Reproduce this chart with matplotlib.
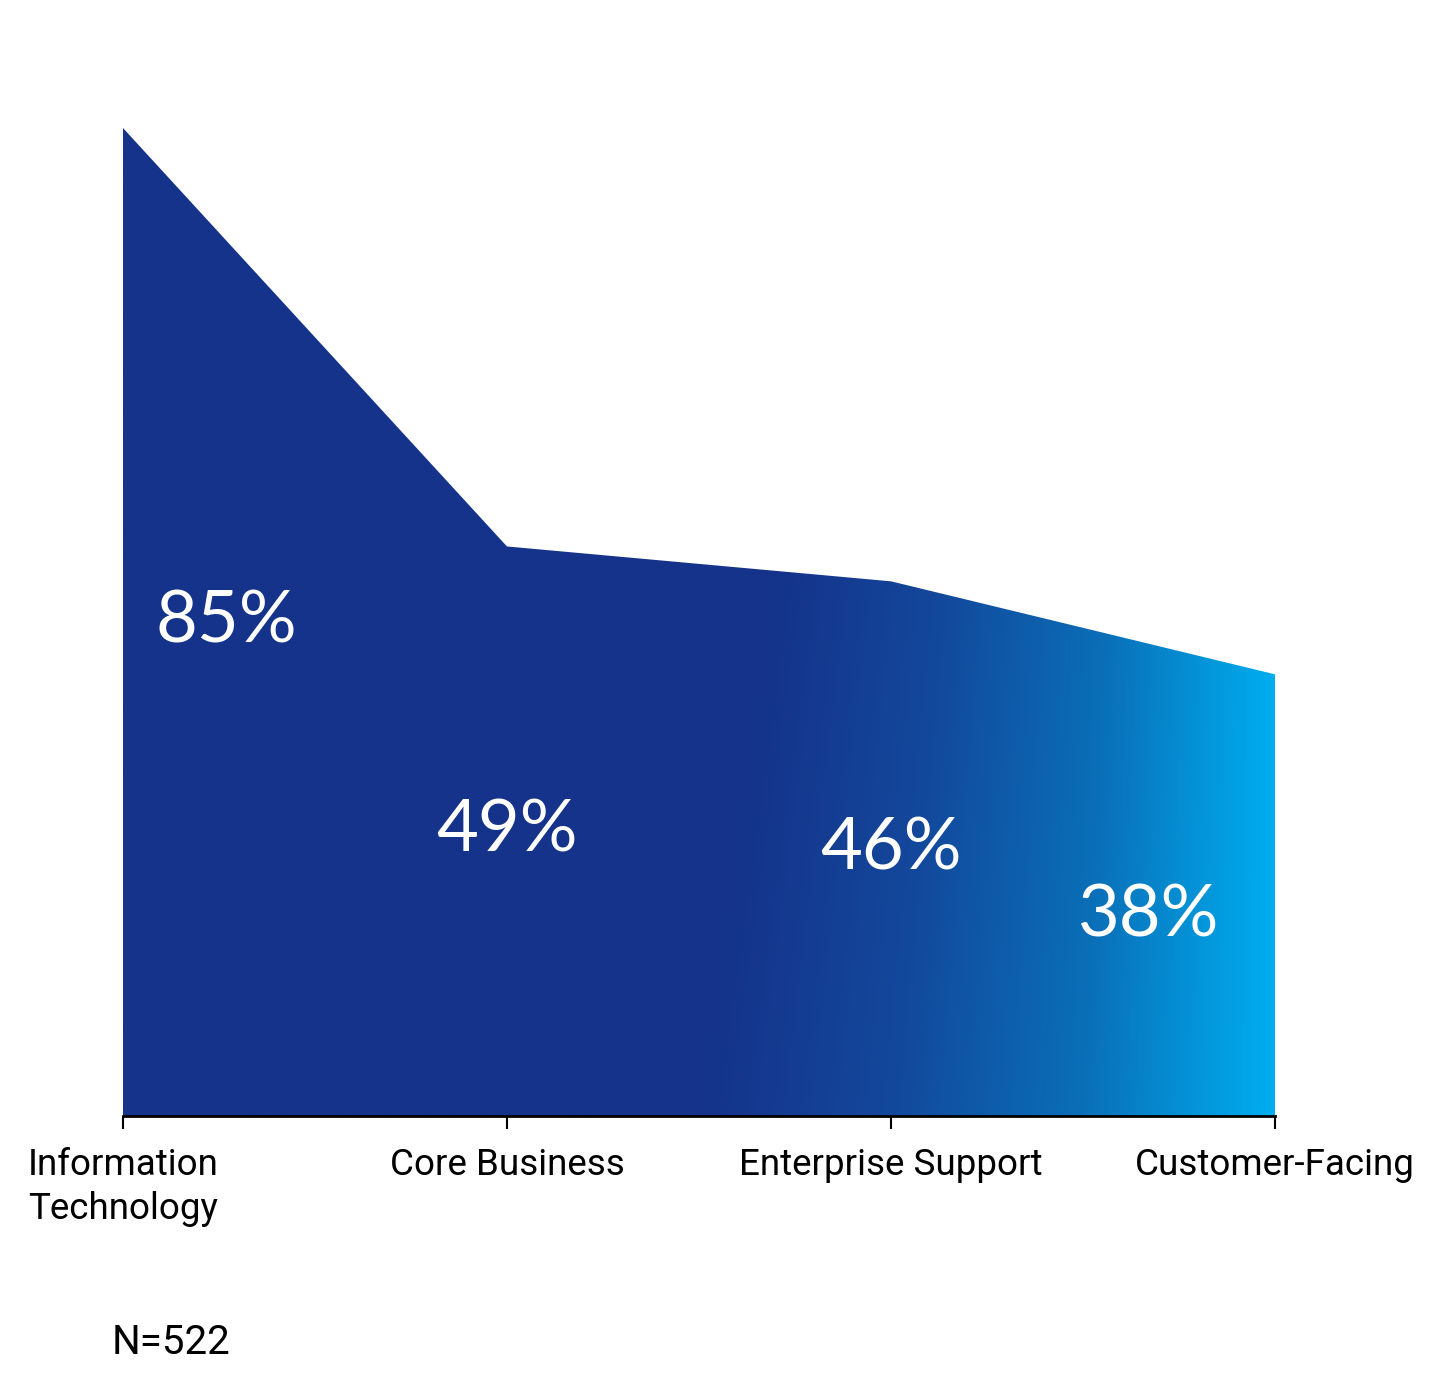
import numpy as np
import matplotlib
matplotlib.use("Agg")
import matplotlib.pyplot as plt
from matplotlib.colors import LinearSegmentedColormap

categories = ["Information\nTechnology", "Core Business", "Enterprise Support", "Customer-Facing"]
values = [85, 49, 46, 38]
labels = ["85%", "49%", "46%", "38%"]
label_dx = [0.27, 0.0, 0.0, -0.33]   # nudge first/last labels inside the area
label_dy = [0.0, 0.0, 0.0, -1.8]
sample_n = "N=522"

navy = "#15338a"
cyan = "#00aeef"

fig = plt.figure(figsize=(14.43, 13.97), dpi=100)
ax = fig.add_axes([0.0852, 0.2011, 0.7984, 0.7073])

x = np.arange(len(values))
poly = ax.fill_between(x, 0, values, facecolor="none", edgecolor="none")

# gradient: flat navy on the left, fading to cyan toward the right edge,
# with the start of the fade leaning slightly (earlier at the bottom)
gx = np.linspace(0, 3, 600)
gy = np.linspace(0, 85, 300)
GX, GY = np.meshgrid(gx, gy)
start = 1.50 + 0.21 * GY / 48.0
t = np.clip((GX - start) / (3.0 - start), 0, 1)
cmap = LinearSegmentedColormap.from_list("grad", [navy, "#13489c", "#0a6fb8", cyan])
img = ax.imshow(t, extent=[0, 3, 0, 85], origin="lower", cmap=cmap,
                aspect="auto", interpolation="bilinear", vmin=0, vmax=1)
img.set_clip_path(poly.get_paths()[0], transform=ax.transData)

for xi, v, lab, dx, dy in zip(x, values, labels, label_dx, label_dy):
    ax.text(xi + dx, v / 2 + dy, lab, color="white", fontsize=52,
            family=["Lato", "DejaVu Sans"], ha="center", va="center")

ax.set_xlim(0, 3)
ax.set_ylim(0, 85)
ax.set_xticks(x)
ax.set_xticklabels(categories, fontsize=26.5, family=["Roboto", "DejaVu Sans"],
                   linespacing=1.3)
ax.tick_params(axis="x", length=9, width=1.5, color="black", pad=13)
ax.set_yticks([])
for side in ["top", "right", "left"]:
    ax.spines[side].set_visible(False)
ax.spines["bottom"].set_linewidth(2)

fig.text(112 / 1443, 1 - 1342 / 1397, sample_n, fontsize=29,
         family=["Liberation Sans Narrow", "Roboto", "DejaVu Sans"],
         ha="left", va="center")

fig.savefig("out.png", dpi=100, facecolor="white")
